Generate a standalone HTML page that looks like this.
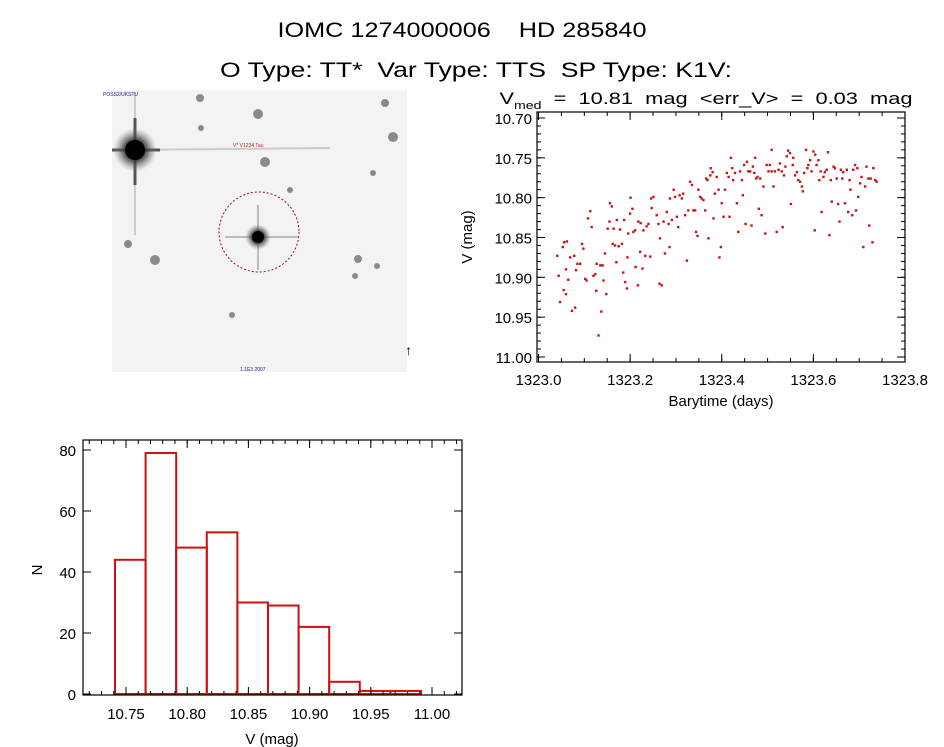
<!DOCTYPE html>
<html><head><meta charset="utf-8">
<style>
html,body{margin:0;padding:0;background:#fff;}
svg{display:block;font-family:"Liberation Sans","DejaVu Sans",sans-serif;}
text{white-space:pre;}
</style></head>
<body>
<svg id="fig" width="944" height="747" viewBox="0 0 944 747" xmlns="http://www.w3.org/2000/svg">
<rect width="944" height="747" fill="#fff"/>
<text x="462" y="37" font-size="21" text-anchor="middle" textLength="369" lengthAdjust="spacingAndGlyphs" xml:space="preserve">IOMC 1274000006    HD 285840</text>
<text x="476" y="77" font-size="21" text-anchor="middle" textLength="512" lengthAdjust="spacingAndGlyphs" xml:space="preserve">O Type: TT*  Var Type: TTS  SP Type: K1V:</text>

<g>
<defs>
<radialGradient id="star"><stop offset="0" stop-color="#000"/><stop offset="0.5" stop-color="#333" stop-opacity="0.8"/><stop offset="1" stop-color="#888" stop-opacity="0"/></radialGradient>
</defs>
<rect x="112" y="90" width="295" height="282" fill="#f3f3f3"/>
<line x1="112" y1="150" x2="330" y2="148" stroke="#ccc" stroke-width="2"/>
<line x1="135" y1="92" x2="135" y2="235" stroke="#ccc" stroke-width="2"/>
<line x1="112" y1="150" x2="160" y2="150" stroke="#555" stroke-width="3"/>
<line x1="135" y1="118" x2="135" y2="185" stroke="#555" stroke-width="3"/>
<circle cx="135" cy="150" r="22" fill="url(#star)"/>
<circle cx="135" cy="150" r="10" fill="#000"/>
<line x1="225" y1="237" x2="298" y2="237" stroke="#bbb" stroke-width="2"/>
<line x1="258" y1="205" x2="258" y2="270" stroke="#bbb" stroke-width="2"/>
<circle cx="258" cy="237" r="13" fill="url(#star)"/>
<circle cx="258" cy="237" r="6" fill="#000"/>
<circle cx="259" cy="232" r="40" fill="none" stroke="#a01010" stroke-width="1" stroke-dasharray="2,2"/>
<text x="233" y="147" font-size="5" fill="#c02020">V* V1234 Tau</text>
<text x="103" y="96" font-size="5" fill="#2020a0">POSS2/UKSTU</text>
<text x="240" y="371" font-size="5" fill="#2020a0">1.1E3 2007</text>
<text x="405" y="355" font-size="14" fill="#000">↑</text>
<g id="stars"></g>
</g>

<g id="lc"></g>
<g id="hist"></g>
</svg>
<script>
const NS="http://www.w3.org/2000/svg";
function mk(parent,tag,attrs){const e=document.createElementNS(NS,tag);for(const k in attrs)e.setAttribute(k,attrs[k]);parent.appendChild(e);return e;}

// background stars in image
const starX=[200,258,201,265,385,393,373,290,128,155,358,377,355,232];
const starY=[98,114,128,162,103,137,173,190,244,260,259,266,276,315];
const starR=[4,5,3,5,4,5,3,3,4,5,4,3,3,3];
const sg=document.getElementById('stars');
starX.forEach((x,i)=>{const c=mk(sg,'circle',{cx:x,cy:starY[i],r:starR[i],fill:'#444','fill-opacity':0.6});

});

// ---- light curve data ----
const lcTime=[1323.041,1323.044,1323.047,1323.053,1323.056,1323.062,1323.055,1323.060,1323.060,1323.065,1323.069,1323.073,1323.080,1323.078,1323.082,1323.085,1323.091,1323.095,1323.098,1323.102,1323.105,1323.108,1323.113,1323.116,1323.120,1323.124,1323.126,1323.127,1323.131,1323.135,1323.137,1323.140,1323.142,1323.145,1323.148,1323.151,1323.155,1323.156,1323.160,1323.162,1323.164,1323.167,1323.170,1323.171,1323.175,1323.178,1323.182,1323.185,1323.187,1323.189,1323.193,1323.194,1323.196,1323.200,1323.201,1323.205,1323.207,1323.211,1323.212,1323.217,1323.218,1323.222,1323.223,1323.227,1323.229,1323.233,1323.236,1323.240,1323.244,1323.246,1323.251,1323.247,1323.258,1323.262,1323.265,1323.264,1323.269,1323.273,1323.276,1323.280,1323.284,1323.286,1323.287,1323.291,1323.295,1323.298,1323.302,1323.305,1323.308,1323.313,1323.316,1323.320,1323.324,1323.327,1323.331,1323.335,1323.338,1323.342,1323.344,1323.347,1323.349,1323.353,1323.356,1323.360,1323.364,1323.366,1323.369,1323.371,1323.375,1323.376,1323.380,1323.382,1323.385,1323.389,1323.393,1323.395,1323.398,1323.400,1323.404,1323.407,1323.411,1323.415,1323.417,1323.420,1323.423,1323.425,1323.429,1323.433,1323.436,1323.440,1323.444,1323.446,1323.449,1323.452,1323.455,1323.458,1323.462,1323.465,1323.468,1323.471,1323.473,1323.475,1323.478,1323.481,1323.484,1323.487,1323.491,1323.495,1323.498,1323.502,1323.505,1323.509,1323.509,1323.513,1323.516,1323.520,1323.524,1323.527,1323.531,1323.533,1323.536,1323.539,1323.542,1323.545,1323.549,1323.551,1323.555,1323.556,1323.560,1323.564,1323.567,1323.571,1323.575,1323.577,1323.580,1323.584,1323.587,1323.589,1323.593,1323.596,1323.600,1323.603,1323.604,1323.607,1323.611,1323.613,1323.616,1323.618,1323.622,1323.625,1323.629,1323.632,1323.635,1323.638,1323.640,1323.644,1323.647,1323.651,1323.654,1323.657,1323.660,1323.663,1323.665,1323.669,1323.673,1323.676,1323.679,1323.681,1323.685,1323.687,1323.691,1323.693,1323.696,1323.698,1323.702,1323.705,1323.709,1323.713,1323.716,1323.720,1323.722,1323.725,1323.729,1323.731,1323.735,1323.738];
const lcMag=[10.873,10.898,10.931,10.862,10.856,10.855,10.916,10.921,10.890,10.903,10.875,10.942,10.938,10.873,10.891,10.883,10.883,10.858,10.864,10.902,10.904,10.826,10.817,10.837,10.898,10.896,10.917,10.883,10.973,10.885,10.943,10.885,10.904,10.870,10.921,10.839,10.830,10.807,10.811,10.858,10.839,10.860,10.881,10.828,10.861,10.840,10.858,10.894,10.828,10.906,10.914,10.875,10.845,10.820,10.800,10.814,10.843,10.841,10.887,10.910,10.830,10.868,10.832,10.889,10.841,10.873,10.836,10.833,10.874,10.801,10.799,10.813,10.822,10.833,10.851,10.908,10.910,10.830,10.870,10.818,10.833,10.862,10.801,10.828,10.790,10.799,10.824,10.837,10.797,10.801,10.795,10.822,10.879,10.816,10.780,10.784,10.816,10.816,10.843,10.848,10.790,10.799,10.801,10.803,10.816,10.776,10.778,10.851,10.772,10.763,10.768,10.826,10.795,10.774,10.790,10.875,10.862,10.807,10.824,10.790,10.769,10.774,10.824,10.750,10.763,10.778,10.769,10.807,10.843,10.767,10.778,10.797,10.759,10.833,10.755,10.767,10.767,10.835,10.761,10.769,10.750,10.776,10.774,10.814,10.776,10.822,10.786,10.845,10.759,10.767,10.759,10.767,10.740,10.786,10.767,10.843,10.765,10.757,10.767,10.837,10.772,10.761,10.748,10.741,10.744,10.808,10.759,10.750,10.772,10.768,10.778,10.780,10.786,10.792,10.769,10.740,10.763,10.759,10.753,10.767,10.742,10.841,10.746,10.759,10.753,10.778,10.767,10.818,10.774,10.768,10.765,10.743,10.847,10.778,10.805,10.761,10.763,10.776,10.808,10.830,10.765,10.776,10.768,10.807,10.765,10.818,10.778,10.790,10.822,10.765,10.759,10.816,10.763,10.799,10.782,10.774,10.862,10.786,10.761,10.776,10.835,10.776,10.856,10.763,10.778,10.780];
const lcXTicks=["1323.0","1323.2","1323.4","1323.6","1323.8"];
const lcYTicks=["10.70","10.75","10.80","10.85","10.90","10.95","11.00"];

// ---- histogram data ----
const histEdges=[10.741,10.766,10.791,10.816,10.841,10.866,10.891,10.916,10.941,10.966,10.991];
const histCounts=[44,79,48,53,30,29,22,4,1,1];
const histXTicks=["10.75","10.80","10.85","10.90","10.95","11.00"];
const histYTicks=["0","20","40","60","80"];

// light curve axes
(function(){
const g=document.getElementById('lc');
const L=537,R=905,T=112,B=362;
const xs=t=>538.5+(t-1323.0)*(366.5/0.8);
const ys=v=>118+(v-10.70)*(239/0.30);
const t=mk(g,'text',{x:706,y:104,'font-size':17,'text-anchor':'middle',textLength:413,lengthAdjust:'spacingAndGlyphs'});


t.innerHTML='V<tspan font-size="11" dy="5">med</tspan><tspan dy="-5">  =  10.81  mag  &lt;err_V&gt;  =  0.03  mag</tspan>';
lcTime.forEach((tt,i)=>{const p=mk(g,'rect',{x:xs(tt)-1.2,y:ys(lcMag[i])-1.2,width:2.4,height:2.4,fill:'#c81414'});

});
const fr=mk(g,'rect',{x:L,y:T,width:R-L,height:B-T,fill:'none',stroke:'#000','stroke-width':1.2});


lcXTicks.forEach(s=>{const x=xs(parseFloat(s));
mk(g,'line',{x1:x,y1:B,x2:x,y2:B-8,stroke:'#000'});mk(g,'line',{x1:x,y1:T,x2:x,y2:T+8,stroke:'#000'});
const l=mk(g,'text',{x:x,y:B+23,'font-size':15,'text-anchor':'middle'});l.textContent=s;

});
for(let k=0;k<=16;k++){const x=xs(1323+k*0.05);mk(g,'line',{x1:x,y1:B,x2:x,y2:B-4,stroke:'#000'});mk(g,'line',{x1:x,y1:T,x2:x,y2:T+4,stroke:'#000'});}
lcYTicks.forEach(s=>{const y=ys(parseFloat(s));
mk(g,'line',{x1:L,y1:y,x2:L+8,y2:y,stroke:'#000'});mk(g,'line',{x1:R,y1:y,x2:R-8,y2:y,stroke:'#000'});
const l=mk(g,'text',{x:L-5,y:y+6,'font-size':15,'text-anchor':'end'});l.textContent=s;

});
for(let k=0;k<=30;k++){const y=ys(10.70+k*0.01);if(y<T||y>B)continue;mk(g,'line',{x1:L,y1:y,x2:L+4,y2:y,stroke:'#000'});mk(g,'line',{x1:R,y1:y,x2:R-4,y2:y,stroke:'#000'});}
const xl=mk(g,'text',{x:721,y:406,'font-size':15,'text-anchor':'middle'});xl.textContent='Barytime (days)';


const yl=mk(g,'text',{x:0,y:0,'font-size':15,'text-anchor':'middle',transform:'translate(472,237) rotate(-90)'});yl.textContent='V (mag)';


})();

// histogram
(function(){
const g=document.getElementById('hist');
const L=83,R=462,T=440,B=695;
const xs=v=>126+(v-10.75)*(306/0.25);
const ys=n=>694-n*(244/80);
histCounts.forEach((c,i)=>{const x0=xs(histEdges[i]),x1=xs(histEdges[i+1]);
const b=mk(g,'rect',{x:x0,y:ys(c),width:x1-x0,height:ys(0)-ys(c),fill:'none',stroke:'#cc1111','stroke-width':2});

});
const fr=mk(g,'rect',{x:L,y:T,width:R-L,height:B-T,fill:'none',stroke:'#000','stroke-width':1.2});


histXTicks.forEach(s=>{const x=xs(parseFloat(s));
mk(g,'line',{x1:x,y1:B,x2:x,y2:B-8,stroke:'#000'});mk(g,'line',{x1:x,y1:T,x2:x,y2:T+8,stroke:'#000'});
const l=mk(g,'text',{x:x,y:B+24,'font-size':15,'text-anchor':'middle'});l.textContent=s;

});
for(let k=-3;k<=27;k++){const x=xs(10.75+k*0.01);if(x<L||x>R)continue;mk(g,'line',{x1:x,y1:B,x2:x,y2:B-4,stroke:'#000'});mk(g,'line',{x1:x,y1:T,x2:x,y2:T+4,stroke:'#000'});}
histYTicks.forEach(s=>{const y=ys(parseFloat(s));
mk(g,'line',{x1:L,y1:y,x2:L+8,y2:y,stroke:'#000'});mk(g,'line',{x1:R,y1:y,x2:R-8,y2:y,stroke:'#000'});
const l=mk(g,'text',{x:L-7,y:y+6,'font-size':15,'text-anchor':'end'});l.textContent=s;

});
const xl=mk(g,'text',{x:272,y:744,'font-size':15,'text-anchor':'middle'});xl.textContent='V (mag)';


const yl=mk(g,'text',{x:0,y:0,'font-size':15,'text-anchor':'middle',transform:'translate(42,570) rotate(-90)'});yl.textContent='N';


})();
</script>
</body></html>
